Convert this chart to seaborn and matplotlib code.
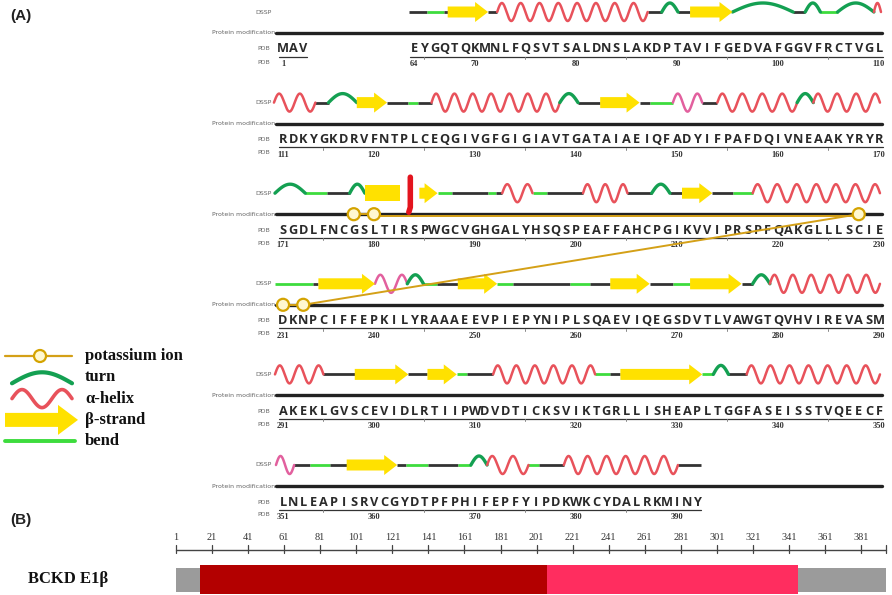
import numpy as np
import matplotlib
matplotlib.use("Agg")
import matplotlib.pyplot as plt
from matplotlib.patches import Polygon, Rectangle, Circle
import seaborn as sns

# ---------------- data ----------------
# sequence fragments per row: (first residue, letters, residue that sits in slot 0)
SEQ_ROWS = [
    [(1, "MAV", 1), (64, "EYGQTQKMNLFQSVTSALDNSLAKDPTAVIFGEDVAFGGVFRCTVGL", 51)],
    [(111, "RDKYGKDRVFNTPLCEQGIVGFGIGIAVTGATAIAEIQFADYIFPAFDQIVNEAAKYRYR", 111)],
    [(171, "SGDLFNCGSLTIRSPWGCVGHGALYHSQSPEAFFAHCPGIKVVIPRSPFQAKGLLLSCIE", 171)],
    [(231, "DKNPCIFFEPKILYRAAAEEVPIEPYNIPLSQAEVIQEGSDVTLVAWGTQVHVIREVASM", 231)],
    [(291, "AKEKLGVSCEVIDLRTIIPWDVDTICKSVIKTGRLLISHEAPLTGGFASEISSTVQEECF", 291)],
    [(351, "LNLEAPISRVCGYDTPFPHIFEPFYIPDKWKCYDALRKMINY", 351)],
]
ROW_ORIGIN = [51, 111, 171, 231, 291, 351]

# DSSP secondary structure: (kind, start, end) in residue units
# C coil, S bend, T turn, H helix, h helix (pink), E strand, B strand without head
DSSP_ROWS = [
    [("C", 64, 65.8), ("S", 65.8, 67.4), ("C", 67.4, 67.8), ("E", 67.8, 71.8),
     ("C", 71.8, 72.7), ("H", 72.7, 87.6), ("C", 87.6, 89.0), ("T", 89.0, 90.6),
     ("C", 90.6, 91.8), ("E", 91.8, 96.0), ("T", 96.0, 102.0), ("C", 102.0, 103.2),
     ("T", 103.2, 104.7), ("S", 104.7, 106.4), ("T", 106.4, 110.0), ("H", 110.0, 110.7)],
    [("H", 110.6, 114.7), ("C", 114.7, 116.0), ("T", 116.0, 118.8), ("E", 118.8, 121.8),
     ("C", 121.8, 123.9), ("S", 123.9, 124.9), ("C", 124.9, 126.2), ("H", 126.2, 138.9),
     ("T", 138.9, 140.7), ("C", 140.7, 142.9), ("E", 142.9, 146.8), ("C", 146.8, 147.8),
     ("S", 147.8, 150.1), ("h", 150.1, 153.0), ("C", 153.0, 154.5), ("H", 154.5, 162.4),
     ("T", 162.4, 164.0), ("H", 164.0, 170.6)],
    [("T", 170.7, 173.7), ("S", 173.7, 175.9), ("C", 175.9, 178.1), ("T", 178.1, 179.6),
     ("B", 179.6, 183.1), ("E", 185.0, 186.8), ("S", 186.8, 188.2), ("C", 188.2, 191.8),
     ("S", 191.8, 192.6), ("C", 192.6, 193.2), ("H", 193.2, 196.2), ("S", 196.2, 197.6),
     ("C", 197.6, 201.2), ("H", 201.2, 205.6), ("C", 205.6, 208.0), ("T", 208.0, 209.8),
     ("C", 209.8, 211.0), ("E", 211.0, 214.0), ("C", 214.0, 216.0), ("S", 216.0, 218.0),
     ("H", 218.0, 230.6)],
    [("S", 230.7, 234.5), ("C", 234.5, 235.0), ("E", 235.0, 240.6), ("h", 240.6, 243.8),
     ("T", 243.8, 245.4), ("S", 245.4, 246.7), ("C", 246.7, 248.8), ("E", 248.8, 252.7),
     ("S", 252.7, 254.3), ("C", 254.3, 259.9), ("S", 259.9, 261.9), ("C", 261.9, 263.9),
     ("E", 263.9, 267.8), ("C", 267.8, 270.1), ("S", 270.1, 271.8), ("E", 271.8, 276.9),
     ("C", 276.9, 278.0), ("T", 278.0, 279.7), ("H", 279.7, 290.6)],
    [("H", 290.7, 295.5), ("C", 295.5, 298.6), ("E", 298.6, 303.9), ("C", 303.9, 305.8),
     ("E", 305.8, 308.7), ("S", 308.7, 309.7), ("C", 309.7, 312.3), ("H", 312.3, 322.4),
     ("S", 322.4, 323.9), ("C", 323.9, 324.9), ("E", 324.9, 333.0), ("S", 333.0, 334.1),
     ("T", 334.1, 335.6), ("C", 335.6, 337.4), ("H", 337.4, 350.6)],
    [("h", 350.8, 352.6), ("C", 352.6, 354.2), ("S", 354.2, 356.1), ("C", 356.1, 357.8),
     ("E", 357.8, 362.8), ("C", 362.8, 363.7), ("S", 363.7, 365.9), ("C", 365.9, 368.8),
     ("S", 368.8, 370.1), ("T", 370.1, 371.7), ("H", 371.7, 375.8), ("S", 375.8, 376.8),
     ("C", 376.8, 379.3), ("H", 379.3, 390.6), ("C", 390.6, 392.9)],
]

# red marker between the two strand pieces in row 3
RED_MARK_RES = [184.1]

# potassium ion binding residues and the links drawn between them
KPLUS_RES = [178, 180, 228, 231, 233]
KPLUS_LINKS = [(178, 180), (180, 228), (228, 233), (231, 233)]

LEGEND_LABELS = ["potassium ion", "turn", "\u03b1-helix", "\u03b2-strand", "bend"]
LEGEND_KINDS = ["K", "T", "H", "E", "S"]

# panel B: domain bar
PROTEIN_LEN = 395
DOMAINS = [(14.3, 207.0, "#b30000"), (207.0, 346.0, "#ff2d5f")]
AXIS_TICKS = list(range(1, 382, 20))
PROTEIN_NAME = "BCKD E1\u03b2"

# ---------------- style / layout ----------------
SEQ_X0, DX = 278, 10.1
DSSP_Y0, ROW_H = 12, 90.6
COL = {"C": "#333333", "S": "#3ddc3d", "T": "#14a052", "H": "#e8525b",
       "h": "#e2609e", "E": "#ffe100", "K": "#d4a017"}
HELIX_WAVE, HELIX_AMP, TURN_H = 19, 9, 9

sns.set_theme(style="white")
plt.rcParams["font.family"] = ["DejaVu Sans"]

fig = plt.figure(figsize=(8.92, 5.95), dpi=100)
ax = fig.add_axes([0, 0, 1, 1])
ax.set_xlim(0, 892)
ax.set_ylim(595, 0)
ax.axis("off")


def row_of(res):
    return 0 if res <= 110 else int((res - 111) // 60) + 1


def res_x(res, origin):
    return SEQ_X0 + (res - origin) * DX


def draw_helix(x0, x1, y, color, amp=HELIX_AMP, lw=1.8, n_half=None):
    if n_half is None:
        n_half = max(1, int(round(2 * (x1 - x0) / HELIX_WAVE)))
    xs = np.linspace(x0, x1, 40 * n_half)
    ys = y - amp * np.sin(np.pi * n_half * (xs - x0) / (x1 - x0))
    ax.plot(xs, ys, color=color, lw=lw, solid_capstyle="round", zorder=3)


def draw_turn(x0, x1, y, h=TURN_H, lw=2.4):
    xs = np.linspace(x0, x1, 50)
    ys = y - h * np.sin(np.pi * (xs - x0) / (x1 - x0))
    ax.plot(xs, ys, color=COL["T"], lw=lw, solid_capstyle="round", zorder=3)


def draw_strand(x0, x1, y, body=5.5, head=10, hl=13, with_head=True):
    if with_head:
        hl = min(hl, 0.75 * (x1 - x0))
        pts = [(x0, y - body), (x1 - hl, y - body), (x1 - hl, y - head), (x1, y),
               (x1 - hl, y + head), (x1 - hl, y + body), (x0, y + body)]
        ax.add_patch(Polygon(pts, closed=True, fc=COL["E"], ec="none", zorder=4))
    else:
        ax.add_patch(Rectangle((x0, y - 8), x1 - x0, 16, fc=COL["E"], ec="none", zorder=4))


# ---------------- panel A ----------------
ax.text(10, 16, "(A)", fontsize=11, fontweight="bold", family="Liberation Sans",
        va="center", ha="left", color="#222")

for i in range(6):
    yd = DSSP_Y0 + i * ROW_H
    ym, ys = yd + 21, yd + 37
    origin = ROW_ORIGIN[i]
    small = dict(fontsize=4.5, color="#666", ha="right", va="center")
    ax.text(272, yd, "DSSP", **small)
    ax.text(275, ym, "Protein modification", **small)
    ax.text(270, ys, "PDB", **small)
    ax.text(270, ys + 13, "PDB", **small)

    ax.plot([276, 882], [ym, ym], color="#222", lw=2.4, zorder=2)

    for kind, a, b in DSSP_ROWS[i]:
        x0, x1 = res_x(a, origin), res_x(b, origin)
        if kind in ("C", "S"):
            ax.plot([x0, x1], [yd, yd], color=COL[kind], lw=2.0, zorder=2,
                    solid_capstyle="butt")
        elif kind == "T":
            draw_turn(x0, x1, yd)
        elif kind in ("H", "h"):
            draw_helix(x0, x1, yd, COL[kind])
        elif kind == "E":
            draw_strand(x0, x1, yd)
        elif kind == "B":
            draw_strand(x0, x1, yd, with_head=False)

    for first, letters, org in SEQ_ROWS[i]:
        last = first + len(letters) - 1
        for k, ch in enumerate(letters):
            xc = res_x(first + k, org) + DX / 2
            ax.text(xc, ys, ch, fontsize=9.2, fontweight="bold", family="Open Sans",
                    ha="center", va="center", color="#2a2a2a")
        xa, xb = res_x(first, org) + 1, res_x(last + 1, org) - 1
        ax.plot([xa, xb], [ys + 7.5, ys + 7.5], color="#333", lw=0.9)
        for r in range(first, last + 1):
            xc = res_x(r, org) + DX / 2
            if r % 5 == 0 and r % 10 != 0:
                ax.plot([xc, xc], [ys + 8, ys + 10], color="#888", lw=0.7)
            if r == first or r % 10 == 0:
                ax.text(xc, ys + 15, str(r), fontsize=6, fontweight="bold",
                        family="Liberation Serif", ha="center", va="center",
                        color="#333")

# red mark
for r in RED_MARK_RES:
    i = row_of(r)
    yd = DSSP_Y0 + i * ROW_H
    x = res_x(r, ROW_ORIGIN[i])
    ax.plot([x, x, x - 1.5], [yd - 16, yd + 14, yd + 19], color="#e3141e", lw=4,
            solid_capstyle="round", zorder=5)


def kplus_xy(r):
    i = row_of(r)
    return res_x(r, ROW_ORIGIN[i]) + DX / 2, DSSP_Y0 + i * ROW_H + 21


for a, b in KPLUS_LINKS:
    (xa, ya), (xb, yb) = kplus_xy(a), kplus_xy(b)
    off = 2 if ya == yb and abs(b - a) > 5 else 0
    ax.plot([xa, xb], [ya + off, yb + off], color=COL["K"], lw=1.4, zorder=6)
for r in KPLUS_RES:
    x, y = kplus_xy(r)
    ax.add_patch(Circle((x, y), 6, fc="#fff8d0", ec="#d4a300", lw=1.6, zorder=7))

# legend
for k, (lab, kind) in enumerate(zip(LEGEND_LABELS, LEGEND_KINDS)):
    y = 356 + k * 21.3
    if kind == "K":
        ax.plot([5, 72], [y, y], color=COL["K"], lw=1.6)
        ax.add_patch(Circle((40, y), 6, fc="#fff8d0", ec="#d4a300", lw=1.6, zorder=7))
    elif kind == "T":
        draw_turn(12, 72, y + 6, h=11, lw=3)
    elif kind == "H":
        draw_helix(12, 72, y, COL["H"], amp=9, lw=2.6, n_half=3)
    elif kind == "E":
        draw_strand(5, 78, y, body=7, head=15, hl=20)
    elif kind == "S":
        ax.plot([5, 75], [y, y], color=COL["S"], lw=2.8)
    ax.text(85, y, lab, fontsize=12, fontweight="bold", family="Liberation Serif",
            ha="left", va="center", color="#111")

# ---------------- panel B ----------------
BX0, BDX = 176, 1.803


def bx(r):
    return BX0 + (r - 1) * BDX


ax.text(10, 520, "(B)", fontsize=11, fontweight="bold", family="Liberation Sans",
        va="center", ha="left", color="#222")
ax.plot([bx(1), bx(PROTEIN_LEN)], [550, 550], color="#444", lw=1.0)
for t in AXIS_TICKS:
    ax.plot([bx(t), bx(t)], [545, 553], color="#444", lw=0.9)
    ax.text(bx(t), 537, str(t), fontsize=7.5, family="Liberation Serif",
            ha="center", va="center", color="#333")
ax.plot([bx(PROTEIN_LEN)] * 2, [545, 553], color="#444", lw=0.9)

ax.add_patch(Rectangle((bx(1), 568), bx(PROTEIN_LEN) - bx(1), 24, fc="#9b9b9b", ec="none"))
for a, b, c in DOMAINS:
    ax.add_patch(Rectangle((bx(a), 565), bx(b) - bx(a), 29, fc=c, ec="none"))
ax.text(28, 579, PROTEIN_NAME, fontsize=12, fontweight="bold", family="Liberation Serif",
        ha="left", va="center", color="#111")

fig.savefig("out.png", dpi=100)
